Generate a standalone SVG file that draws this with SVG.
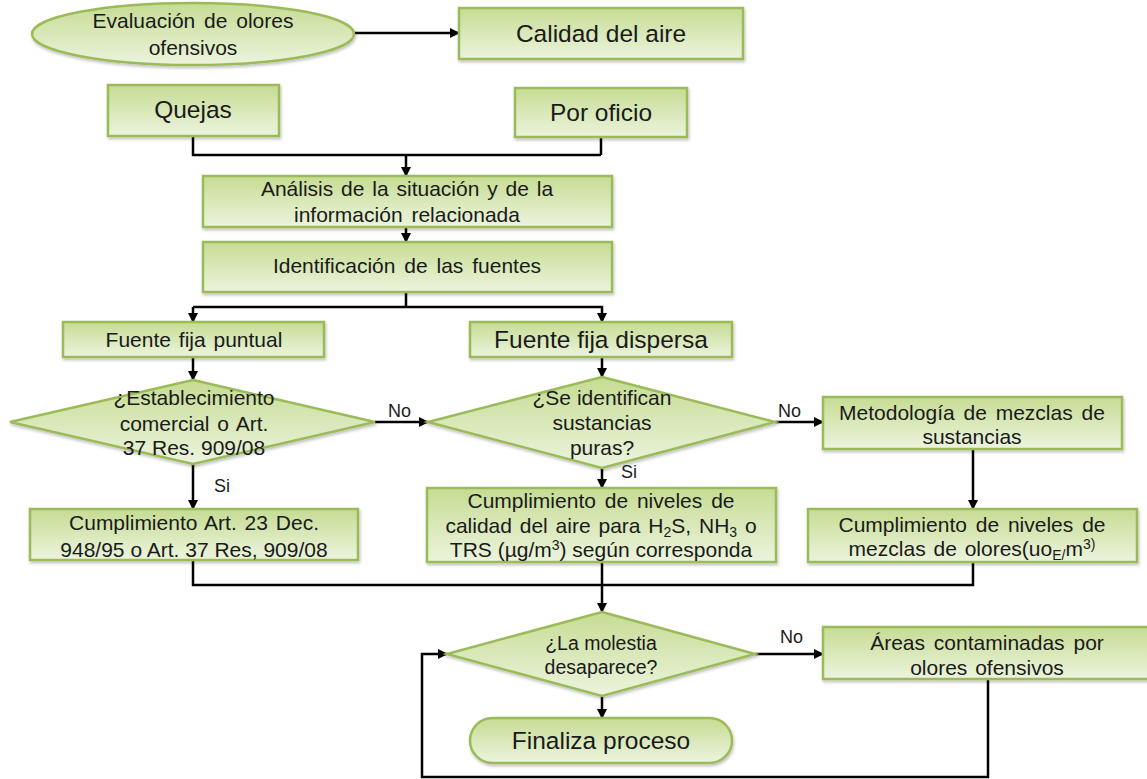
<svg xmlns="http://www.w3.org/2000/svg" width="1147" height="779" viewBox="0 0 1147 779">
<defs>
<linearGradient id="g" x1="0" y1="0" x2="0" y2="1">
<stop offset="0" stop-color="#c6dc93"/>
<stop offset="1" stop-color="#ecf4de"/>
</linearGradient>
<marker id="a" viewBox="0 0 10 10" refX="9" refY="5" markerWidth="4" markerHeight="4" orient="auto" markerUnits="strokeWidth">
<path d="M0,0 L10,5 L0,10 z" fill="#000"/>
</marker>
<filter id="sh" x="-5%" y="-5%" width="110%" height="120%">
<feDropShadow dx="1" dy="2" stdDeviation="1.5" flood-color="#000" flood-opacity="0.25"/>
</filter>
</defs>
<style>
.n{fill:url(#g);stroke:#9bbb59;stroke-width:2.5;filter:url(#sh)}
.t{font-family:"Liberation Sans",Arial,sans-serif;font-size:21px;fill:#1a1a1a;text-anchor:middle}
.b{font-size:24.5px}
.c{font-size:19.5px}
.l{font-family:"Liberation Sans",Arial,sans-serif;font-size:18px;fill:#1a1a1a}
.e{fill:none;stroke:#000;stroke-width:2.5}
.ar{marker-end:url(#a)}
</style>
<rect width="1147" height="779" fill="#fff"/>

<g id="connectors">
<path class="e ar" d="M355,33 H459"/>
<path class="e" d="M193,136 V155 H601"/>
<path class="e" d="M601,137 V155"/>
<path class="e ar" d="M406,155 V176"/>
<path class="e ar" d="M406,227 V242"/>
<path class="e" d="M406,292 V307"/>
<path class="e ar" d="M193,307 H602 V322"/>
<path class="e ar" d="M193,307 V322"/>
<path class="e ar" d="M193,357 V380"/>
<path class="e ar" d="M602,357 V377"/>
<path class="e ar" d="M375,422 H428"/>
<path class="e ar" d="M775,422 H823"/>
<path class="e ar" d="M193,464 V509"/>
<path class="e ar" d="M602,468 V488"/>
<path class="e ar" d="M973,449 V509"/>
<path class="e" d="M193,560 V585 H973 V562"/>
<path class="e ar" d="M602,562 V612"/>
<path class="e ar" d="M755,654 H823"/>
<path class="e ar" d="M602,696 V718"/>
<path class="e ar" d="M988,679 V777 H422 V654 H447"/>
<text class="l" x="388" y="417">No</text>
<text class="l" x="778" y="417">No</text>
<text class="l" x="780" y="643">No</text>
<text class="l" x="214" y="492">Si</text>
<text class="l" x="621" y="478">Si</text>
</g>

<g id="n-evaluacion">
<ellipse class="n" cx="193" cy="34" rx="161" ry="31"/>
<text class="t" x="193" y="28" word-spacing="3">Evaluación de olores</text>
<text class="t" x="193" y="55">ofensivos</text>
</g>

<g id="n-calidad">
<rect class="n" x="459" y="8" width="284" height="51"/>
<text class="t b" x="601" y="42">Calidad del aire</text>
</g>

<g id="n-quejas">
<rect class="n" x="108" y="85" width="171" height="51"/>
<text class="t b" x="193" y="118">Quejas</text>
</g>

<g id="n-oficio">
<rect class="n" x="515" y="88" width="172" height="49"/>
<text class="t b" x="601" y="121">Por oficio</text>
</g>

<g id="n-analisis">
<rect class="n" x="203" y="176" width="409" height="51"/>
<text class="t" x="407" y="196" word-spacing="2">Análisis de la situación y de la</text>
<text class="t" x="407" y="222" word-spacing="3">información relacionada</text>
</g>

<g id="n-identificacion">
<rect class="n" x="203" y="242" width="409" height="50"/>
<text class="t" x="407" y="273" word-spacing="3">Identificación de las fuentes</text>
</g>

<g id="n-puntual">
<rect class="n" x="63" y="322" width="261" height="35"/>
<text class="t" x="194" y="347" word-spacing="2">Fuente fija puntual</text>
</g>

<g id="n-dispersa">
<rect class="n" x="470" y="322" width="262" height="35"/>
<text class="t b" x="601" y="348">Fuente fija dispersa</text>
</g>

<g id="n-establecimiento">
<polygon class="n" points="193,380 375,422 193,464 10,422"/>
<text class="t" x="194" y="405">¿Establecimiento</text>
<text class="t" x="194" y="431" word-spacing="2">comercial o Art.</text>
<text class="t" x="194" y="455">37 Res. 909/08</text>
</g>

<g id="n-sustancias">
<polygon class="n" points="602,377 775,422 602,468 428,422"/>
<text class="t" x="602" y="405">¿Se identifican</text>
<text class="t" x="602" y="430">sustancias</text>
<text class="t" x="602" y="455">puras?</text>
</g>

<g id="n-metodologia">
<rect class="n" x="823" y="397" width="299" height="52"/>
<text class="t" x="972" y="420" word-spacing="3">Metodología de mezclas de</text>
<text class="t" x="972" y="444">sustancias</text>
</g>

<g id="n-cumpl-art">
<rect class="n" x="30" y="509" width="328" height="51"/>
<text class="t" x="194" y="530" word-spacing="2">Cumplimiento Art. 23 Dec.</text>
<text class="t" x="194" y="557">948/95 o Art. 37 Res, 909/08</text>
</g>

<g id="n-cumpl-niveles">
<rect class="n" x="427" y="488" width="349" height="74"/>
<text class="t" x="601" y="508" word-spacing="3">Cumplimiento de niveles de</text>
<text class="t" x="601" y="533" word-spacing="2">calidad del aire para H<tspan font-size="14" dy="4">2</tspan><tspan dy="-4">S, NH</tspan><tspan font-size="14" dy="4">3</tspan><tspan dy="-4"> o</tspan></text>
<text class="t" x="601" y="557">TRS (µg/m<tspan font-size="14" dy="-7">3</tspan><tspan dy="7">) según corresponda</tspan></text>
</g>

<g id="n-cumpl-mezclas">
<rect class="n" x="808" y="509" width="329" height="53"/>
<text class="t" x="972" y="532" word-spacing="3">Cumplimiento de niveles de</text>
<text class="t" x="972" y="556" word-spacing="2">mezclas de olores(uo<tspan font-size="14" dy="4">E/</tspan><tspan dy="-4">m</tspan><tspan font-size="14" dy="-7">3)</tspan></text>
</g>

<g id="n-molestia">
<polygon class="n" points="602,612 755,654 602,696 447,654"/>
<text class="t c" x="601" y="650">¿La molestia</text>
<text class="t c" x="601" y="674">desaparece?</text>
</g>

<g id="n-areas">
<rect class="n" x="823" y="627" width="330" height="52"/>
<text class="t" x="987" y="650" word-spacing="3">Áreas contaminadas por</text>
<text class="t" x="987" y="675" word-spacing="2">olores ofensivos</text>
</g>

<g id="n-finaliza">
<rect class="n" x="470" y="718" width="262" height="45" rx="22.5" ry="22.5"/>
<text class="t b" x="601" y="749">Finaliza proceso</text>
</g>
</svg>
